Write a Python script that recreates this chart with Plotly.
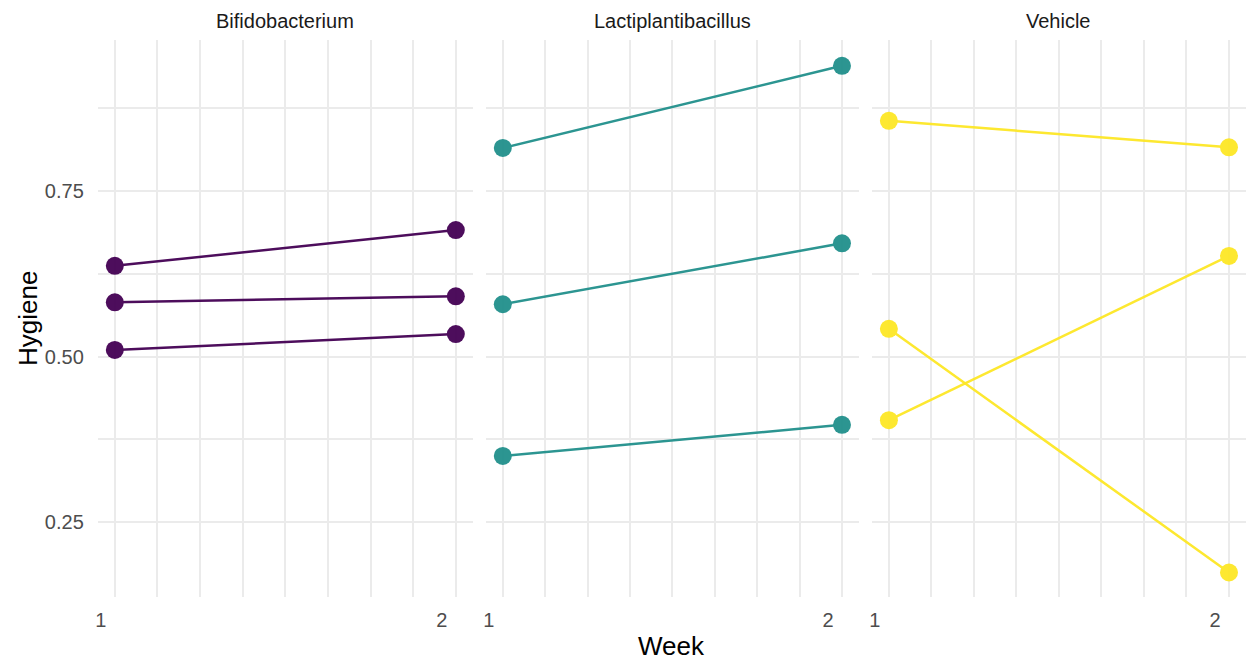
import plotly.graph_objects as go

# Hygiene score per subject at week 1 and week 2, by treatment group
weeks = [1, 2]
groups = ["Bifidobacterium", "Lactiplantibacillus", "Vehicle"]
colors = ["#440154", "#21908C", "#FDE725"]

bifido = [[0.637, 0.691], [0.582, 0.591], [0.510, 0.534]]
lacti = [[0.815, 0.939], [0.579, 0.671], [0.350, 0.397]]
vehicle = [[0.856, 0.816], [0.542, 0.174], [0.404, 0.652]]
series = [bifido, lacti, vehicle]

x_grid = [1, 1.125, 1.25, 1.375, 1.5, 1.625, 1.75, 1.875, 2]
x_text = ["1", "", "", "", "", "", "", "", "2"]
y_grid = [0.25, 0.375, 0.5, 0.625, 0.75, 0.875]
y_text = ["0.25", "", "0.50", "", "0.75", ""]

W, H = 1249, 660
panels_px = [(95, 471), (484, 858), (871, 1246)]
top_px, bot_px = 40, 597
y_dom = [(H - bot_px) / H, (H - top_px) / H]

FONT = "Liberation Sans, Arial, sans-serif"
GRID = "#EBEBEB"
TICK_SIZE = 20
TITLE_SIZE = 26

fig = go.Figure()
layout = dict(
    width=W, height=H,
    margin=dict(l=0, r=0, t=0, b=0),
    paper_bgcolor="white", plot_bgcolor="white",
    showlegend=False,
    font=dict(family=FONT, color="#4D4D4D", size=TICK_SIZE),
)

annotations = []
for i, (grp, col, subj) in enumerate(zip(groups, colors, series)):
    xa = "x" if i == 0 else f"x{i+1}"
    ya = "y" if i == 0 else f"y{i+1}"
    for vals in subj:
        fig.add_trace(go.Scatter(
            x=weeks, y=vals, mode="lines+markers",
            line=dict(color=col, width=2.5),
            marker=dict(color=col, size=18),
            opacity=0.95,
            xaxis=xa, yaxis=ya, hoverinfo="skip",
        ))
    x0, x1 = panels_px[i]
    key = "xaxis" if i == 0 else f"xaxis{i+1}"
    ykey = "yaxis" if i == 0 else f"yaxis{i+1}"
    layout[key] = dict(
        domain=[x0 / W, x1 / W], anchor=ya,
        range=[0.95, 2.05],
        tickmode="array", tickvals=x_grid, ticktext=x_text,
        showgrid=True, gridcolor=GRID, gridwidth=1.8,
        zeroline=False, showline=False, ticks="",
        ticklabelshift=-14, ticklabelstandoff=9,
        tickfont=dict(size=TICK_SIZE, color="#4D4D4D", family=FONT),
    )
    layout[ykey] = dict(
        domain=y_dom, anchor=xa,
        range=[0.137, 0.978],
        tickmode="array", tickvals=y_grid, ticktext=y_text,
        showgrid=True, gridcolor=GRID, gridwidth=1.8,
        zeroline=False, showline=False, ticks="",
        showticklabels=(i == 0), ticklabelstandoff=13,
        tickfont=dict(size=TICK_SIZE, color="#4D4D4D", family=FONT),
    )
    annotations.append(dict(
        text=grp, x=(x0 + x1) / 2 / W, y=(H - 21) / H,
        xref="paper", yref="paper", showarrow=False,
        xanchor="center", yanchor="middle",
        font=dict(size=TICK_SIZE, color="#1A1A1A", family=FONT),
    ))

annotations.append(dict(
    text="Week", x=(95 + 1246) / 2 / W, y=(H - 646) / H,
    xref="paper", yref="paper", showarrow=False,
    xanchor="center", yanchor="middle",
    font=dict(size=TITLE_SIZE, color="black", family=FONT),
))
annotations.append(dict(
    text="Hygiene", x=25 / W, y=(H - 318) / H,
    xref="paper", yref="paper", showarrow=False, textangle=-90,
    xanchor="center", yanchor="middle",
    font=dict(size=TITLE_SIZE, color="black", family=FONT),
))
layout["annotations"] = annotations

fig.update_layout(**layout)
fig.write_html("out.html")
